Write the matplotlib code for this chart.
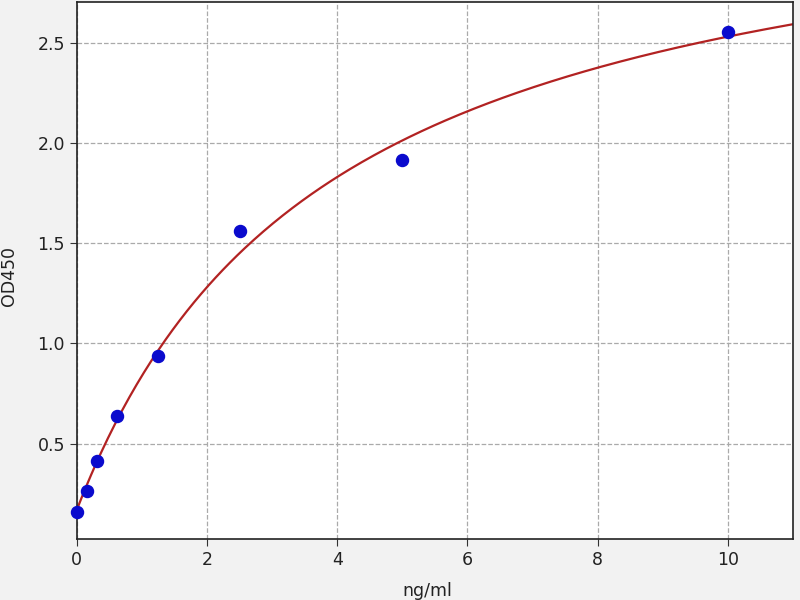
import numpy as np
import matplotlib
matplotlib.use("Agg")
import matplotlib.pyplot as plt

# standard points
conc = [0, 0.156, 0.3125, 0.625, 1.25, 2.5, 5, 10]
od450 = [0.162, 0.262, 0.415, 0.64, 0.94, 1.562, 1.916, 2.553]

# fitted curve parameters (estimated from the drawn curve)
fit_bottom = 0.17
fit_span = 3.283
fit_ec50 = 3.91
fit_slope = 1.0

x_max = 11


def fit_curve(x):
    return fit_bottom + fit_span * x**fit_slope / (fit_ec50**fit_slope + x**fit_slope)


fig = plt.figure(figsize=(8, 6), dpi=100, facecolor="#f2f2f2")
ax = fig.add_axes([0.096, 0.102, 0.895, 0.895])
ax.set_facecolor("white")

xs = np.linspace(0, x_max, 300)
ax.plot(xs, fit_curve(xs), color="#b22222", linewidth=1.6, zorder=2)
ax.scatter(conc, od450, s=75, color="#0a0acd", zorder=3, clip_on=False)

ax.set_xlim(0, x_max)
ax.set_ylim(0.026, 2.704)
ax.set_xticks([0, 2, 4, 6, 8, 10])
ax.set_yticks([0.5, 1.0, 1.5, 2.0, 2.5])
ax.grid(True, linestyle="--", color="#aaaaaa", linewidth=0.9)
ax.set_axisbelow(True)

ax.tick_params(labelsize=12.5, length=5, color="#333333", labelcolor="#222222")
for sp in ax.spines.values():
    sp.set_color("#222222")
    sp.set_linewidth(1.2)

ax.set_xlabel("ng/ml", fontsize=12.5, color="#222222")
ax.set_ylabel("OD450", fontsize=12.5, color="#222222")
ax.xaxis.set_label_coords(0.49, -0.08)
ax.yaxis.set_label_coords(-0.082, 0.49)

fig.savefig("out.png", dpi=100, facecolor=fig.get_facecolor())
